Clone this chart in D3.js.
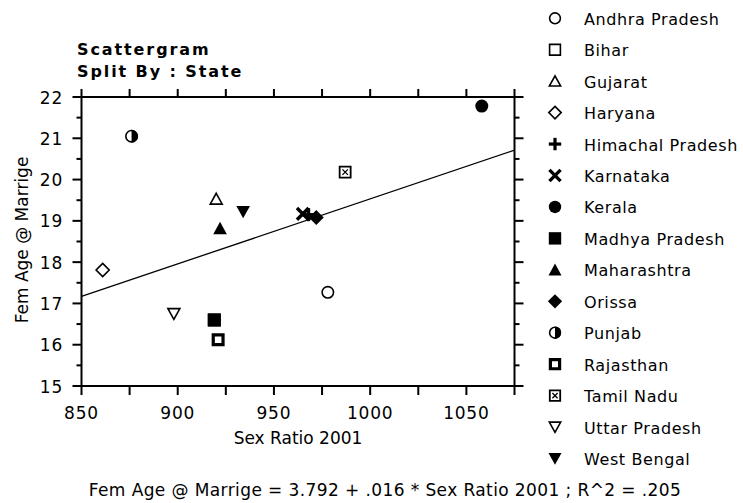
<!DOCTYPE html>
<html>
<head>
<meta charset="utf-8">
<script src="https://cdn.jsdelivr.net/npm/d3@7"></script>
<style>
  body { margin: 0; background: #fff; }
  svg text { font-family: "DejaVu Sans", sans-serif; fill: #000; }
</style>
</head>
<body>
<svg id="chart" width="743" height="503"></svg>
<script>
// values
var states = ['Andhra Pradesh', 'Bihar', 'Gujarat', 'Haryana', 'Himachal Pradesh',
  'Karnataka', 'Kerala', 'Madhya Pradesh', 'Maharashtra', 'Orissa', 'Punjab',
  'Rajasthan', 'Tamil Nadu', 'Uttar Pradesh', 'West Bengal'];
var sexRatio = [978, 919, 920, 861, 968, 965, 1058, 919, 922, 972, 876, 921, 987, 898, 934];
var femAge = [17.27, 16.6, 19.53, 17.81, 19.15, 19.17, 21.78, 16.6, 18.82, 19.08, 21.05, 16.12, 20.18, 16.75, 19.22];
var markers = ['circle', 'square', 'triangle', 'diamond', 'plus', 'cross', 'circleFill',
  'squareFill', 'triangleFill', 'diamondFill', 'halfCircle', 'squareBold', 'squareX',
  'triangleDown', 'triangleDownFill'];

var xTicks = [850, 900, 950, 1000, 1050];
var xMinorTicks = [850, 875, 900, 925, 950, 975, 1000, 1025, 1050, 1075];
var yTicks = [15, 16, 17, 18, 19, 20, 21, 22];
var yMinorTicks = [15.5, 16.5, 17.5, 18.5, 19.5, 20.5, 21.5];

// fit line (drawn slope is a bit under the rounded .016)
var fitIntercept = 3.792;
var fitSlope = 0.01574;
var fitText = 'Fem Age @ Marrige = 3.792 + .016 * Sex Ratio 2001 ; R^2 = .205';

var titleLines = ['Scattergram', 'Split By : State'];
var xTitle = 'Sex Ratio 2001';
var yTitle = 'Fem Age @ Marrige';

var svg = d3.select('#chart');

var x = d3.scaleLinear().domain([850, 1075]).range([81.5, 514.5]);
var y = d3.scaleLinear().domain([15, 22]).range([386, 97]);

// marker shapes, centred on 0,0
function markerPath(kind, r) {
  var p = d3.path();
  if (kind.indexOf('circle') === 0 || kind === 'halfCircle') {
    p.arc(0, 0, r, 0, 2 * Math.PI);
  } else if (kind.indexOf('square') === 0) {
    p.rect(-r, -r, 2 * r, 2 * r);
  } else if (kind === 'triangle' || kind === 'triangleFill') {
    p.moveTo(0, -r); p.lineTo(r * 1.05, r * 0.9); p.lineTo(-r * 1.05, r * 0.9); p.closePath();
  } else if (kind.indexOf('triangleDown') === 0) {
    p.moveTo(0, r); p.lineTo(r * 1.05, -r * 0.9); p.lineTo(-r * 1.05, -r * 0.9); p.closePath();
  } else if (kind.indexOf('diamond') === 0) {
    p.moveTo(0, -r * 1.15); p.lineTo(r * 1.15, 0); p.lineTo(0, r * 1.15); p.lineTo(-r * 1.15, 0); p.closePath();
  }
  return p.toString();
}

function drawMarker(g, kind, r) {
  var filled = /Fill$/.test(kind);
  if (kind === 'plus') {
    g.append('rect').attr('x', -r).attr('y', -1.6).attr('width', 2 * r).attr('height', 3.2);
    g.append('rect').attr('x', -1.6).attr('y', -r).attr('width', 3.2).attr('height', 2 * r);
    return;
  }
  if (kind === 'cross') {
    var c = r * 0.9;
    g.append('path')
      .attr('d', 'M' + (-c) + ',' + (-c) + 'L' + c + ',' + c + 'M' + c + ',' + (-c) + 'L' + (-c) + ',' + c)
      .attr('stroke', '#000').attr('stroke-width', 3.4);
    return;
  }
  if (kind === 'halfCircle') {
    g.append('path').attr('d', markerPath('circle', r - 0.8))
      .attr('fill', '#fff').attr('stroke', '#000').attr('stroke-width', 1.6);
    g.append('path')
      .attr('d', d3.arc()({innerRadius: 0, outerRadius: r, startAngle: 0, endAngle: Math.PI}))
      .attr('fill', '#000');
    return;
  }
  if (kind === 'squareBold') {
    g.append('path').attr('d', markerPath('square', r - 1.6))
      .attr('fill', '#fff').attr('stroke', '#000').attr('stroke-width', 3.2);
    return;
  }
  if (kind === 'squareX') {
    g.append('path').attr('d', markerPath('square', r - 1))
      .attr('fill', '#fff').attr('stroke', '#000').attr('stroke-width', 1.8);
    var k = r * 0.42;
    g.append('path')
      .attr('d', 'M' + (-k) + ',' + (-k) + 'L' + k + ',' + k + 'M' + k + ',' + (-k) + 'L' + (-k) + ',' + k)
      .attr('stroke', '#000').attr('stroke-width', 1.3);
    return;
  }
  g.append('path').attr('d', markerPath(kind, filled ? r : r - 0.8))
    .attr('fill', filled ? '#000' : '#fff')
    .attr('stroke', '#000')
    .attr('stroke-width', filled ? 0 : 1.6);
}

// frame
var axisW = 2;
svg.append('rect')
  .attr('x', x(850)).attr('y', y(22))
  .attr('width', x(1075) - x(850)).attr('height', y(15) - y(22))
  .attr('fill', 'none').attr('stroke', '#000').attr('stroke-width', axisW);

// x ticks: bottom pointing down, top pointing up
xMinorTicks.forEach(function (v) {
  svg.append('line').attr('x1', x(v)).attr('x2', x(v)).attr('y1', y(15)).attr('y2', y(15) + 9)
    .attr('stroke', '#000').attr('stroke-width', axisW);
  svg.append('line').attr('x1', x(v)).attr('x2', x(v)).attr('y1', y(22)).attr('y2', y(22) - 8)
    .attr('stroke', '#000').attr('stroke-width', axisW);
});
// y ticks: left and right, outward
yTicks.forEach(function (v) {
  svg.append('line').attr('x1', x(850) - 9).attr('x2', x(850)).attr('y1', y(v)).attr('y2', y(v))
    .attr('stroke', '#000').attr('stroke-width', axisW);
  svg.append('line').attr('x1', x(1075)).attr('x2', x(1075) + 9).attr('y1', y(v)).attr('y2', y(v))
    .attr('stroke', '#000').attr('stroke-width', axisW);
});
yMinorTicks.forEach(function (v) {
  svg.append('line').attr('x1', x(850) - 5).attr('x2', x(850)).attr('y1', y(v)).attr('y2', y(v))
    .attr('stroke', '#000').attr('stroke-width', axisW);
  svg.append('line').attr('x1', x(1075)).attr('x2', x(1075) + 5).attr('y1', y(v)).attr('y2', y(v))
    .attr('stroke', '#000').attr('stroke-width', axisW);
});

// tick labels
svg.selectAll('.xlab').data(xTicks).enter().append('text')
  .attr('x', function (d) { return x(d); })
  .attr('y', y(15) + 33)
  .attr('text-anchor', 'middle')
  .attr('font-size', 17).attr('letter-spacing', 0.8)
  .text(function (d) { return d; });

svg.selectAll('.ylab').data(yTicks).enter().append('text')
  .attr('x', 63)
  .attr('y', function (d) { return y(d) + 6.5; })
  .attr('text-anchor', 'end')
  .attr('font-size', 17).attr('letter-spacing', 0.8)
  .text(function (d) { return d; });

// axis titles
svg.append('text')
  .attr('x', (x(850) + x(1075)) / 2).attr('y', 444)
  .attr('text-anchor', 'middle').attr('font-size', 17)
  .text(xTitle);

svg.append('text')
  .attr('transform', 'translate(28,240) rotate(-90)')
  .attr('text-anchor', 'middle').attr('font-size', 17)
  .text(yTitle);

// chart title
titleLines.forEach(function (t, i) {
  svg.append('text')
    .attr('x', 77).attr('y', 55 + i * 22)
    .attr('font-size', 16).attr('font-weight', 'bold').attr('letter-spacing', 1.9)
    .text(t);
});

// fit line
svg.append('line')
  .attr('x1', x(850)).attr('y1', y(fitIntercept + fitSlope * 850))
  .attr('x2', x(1075)).attr('y2', y(fitIntercept + fitSlope * 1075))
  .attr('stroke', '#000').attr('stroke-width', 1.3);

// points
states.forEach(function (s, i) {
  var g = svg.append('g')
    .attr('transform', 'translate(' + x(sexRatio[i]) + ',' + y(femAge[i]) + ')');
  drawMarker(g, markers[i], 6.5);
});

// legend
states.forEach(function (s, i) {
  var cy = 18.3 + i * 31.44;
  var g = svg.append('g').attr('transform', 'translate(555,' + cy + ')');
  drawMarker(g, markers[i], 6.2);
  svg.append('text')
    .attr('x', 584).attr('y', cy + 6.5)
    .attr('font-size', 16).attr('letter-spacing', 0.6)
    .text(s);
});

// equation under the chart
svg.append('text')
  .attr('x', 385).attr('y', 496)
  .attr('text-anchor', 'middle').attr('font-size', 17).attr('letter-spacing', 0.4)
  .text(fitText);
</script>
</body>
</html>
